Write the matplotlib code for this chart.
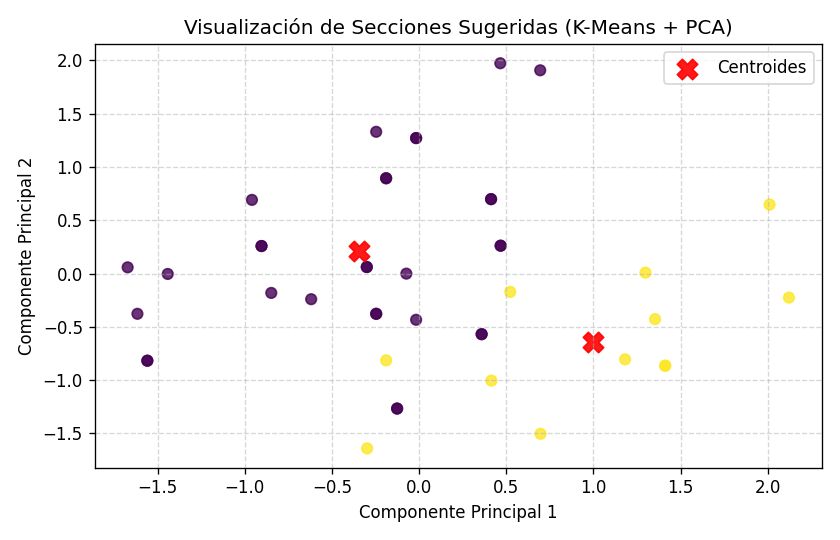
import numpy as np
import matplotlib
matplotlib.use('Agg')
import matplotlib.pyplot as plt

# PCA coordinates of each section (repeated rows are sections that share a position)
pc1 = [0.466, 0.695, -0.246, -0.959, -0.073, -1.672, -1.442, -0.848, -0.619, -1.616, -0.017,
       -0.017, -0.017, -0.189, -0.189, -0.904, -0.904, -0.300, -0.300, -0.246, -0.246,
       -1.559, -1.559, -0.126, -0.126, 0.413, 0.413, 0.468, 0.468, 0.359, 0.359,
       -0.189, -0.298, 0.523, 0.415, 0.697, 1.182, 1.412, 1.412, 1.354, 1.299, 2.011, 2.122]
pc2 = [1.974, 1.908, 1.331, 0.692, 0.000, 0.059, -0.003, -0.181, -0.240, -0.377, -0.433,
       1.272, 1.272, 0.895, 0.895, 0.259, 0.259, 0.062, 0.062, -0.377, -0.377,
       -0.817, -0.817, -1.266, -1.266, 0.699, 0.699, 0.262, 0.262, -0.568, -0.568,
       -0.814, -1.640, -0.171, -1.004, -1.503, -0.804, -0.864, -0.864, -0.427, 0.009, 0.648, -0.225]
clusters = [0] * 31 + [1] * 12

centroid_x = [-0.342, 0.999]
centroid_y = [0.212, -0.645]

plt.figure(figsize=(7, 4.5), dpi=120)
plt.scatter(pc1, pc2, c=clusters, cmap='viridis', s=40, alpha=0.8)
plt.scatter(centroid_x, centroid_y, c='red', marker='X', s=150, alpha=0.9, label='Centroides')
plt.title("Visualización de Secciones Sugeridas (K-Means + PCA)")
plt.xlabel("Componente Principal 1")
plt.ylabel("Componente Principal 2")
plt.legend()
plt.grid(True, linestyle='--', alpha=0.5)
plt.tight_layout()
plt.savefig("out.png")
